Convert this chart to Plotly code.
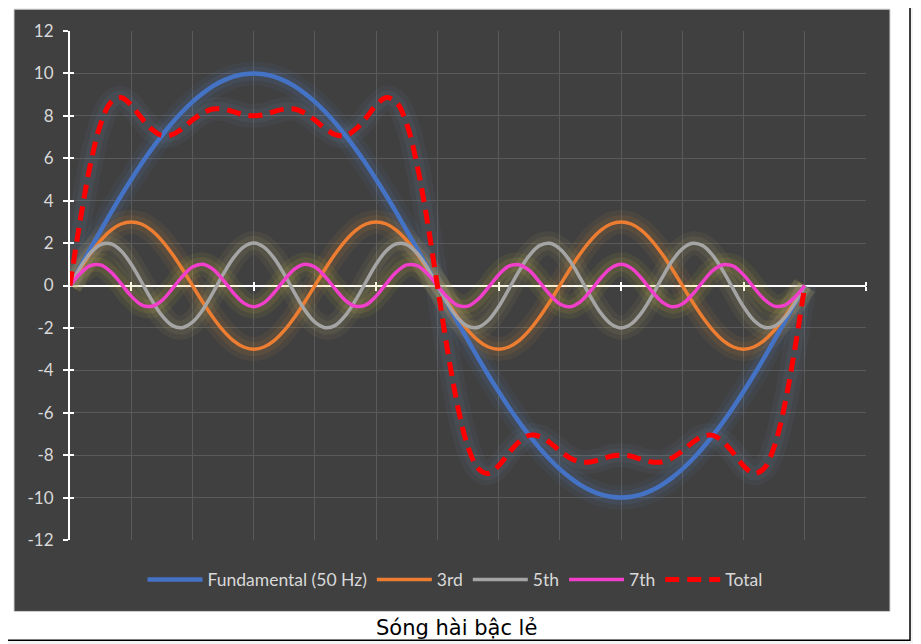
import plotly.graph_objects as go

# Góc (độ) của mỗi điểm dữ liệu
DEGREES = list(range(0, 365, 5))

FUNDAMENTAL = [0, 0.87, 1.74, 2.59, 3.42, 4.23, 5.0, 5.74, 6.43, 7.07, 7.66, 8.19, 8.66, 9.06, 9.40, 9.66, 9.85, 9.96,
               10.0, 9.96, 9.85, 9.66, 9.40, 9.06, 8.66, 8.19, 7.66, 7.07, 6.43, 5.74, 5.0, 4.23, 3.42, 2.59, 1.74, 0.87, 0,
               -0.87, -1.74, -2.59, -3.42, -4.23, -5.0, -5.74, -6.43, -7.07, -7.66, -8.19, -8.66, -9.06, -9.40, -9.66,
               -9.85, -9.96, -10.0, -9.96, -9.85, -9.66, -9.40, -9.06, -8.66, -8.19, -7.66, -7.07, -6.43, -5.74, -5.0,
               -4.23, -3.42, -2.59, -1.74, -0.87, 0]

HARMONIC_3 = [0, 0.78, 1.5, 2.12, 2.6, 2.9, 3.0, 2.9, 2.6, 2.12, 1.5, 0.78, 0, -0.78, -1.5, -2.12, -2.6, -2.9,
              -3.0, -2.9, -2.6, -2.12, -1.5, -0.78, 0, 0.78, 1.5, 2.12, 2.6, 2.9, 3.0, 2.9, 2.6, 2.12, 1.5, 0.78, 0,
              -0.78, -1.5, -2.12, -2.6, -2.9, -3.0, -2.9, -2.6, -2.12, -1.5, -0.78, 0, 0.78, 1.5, 2.12, 2.6, 2.9,
              3.0, 2.9, 2.6, 2.12, 1.5, 0.78, 0, -0.78, -1.5, -2.12, -2.6, -2.9, -3.0, -2.9, -2.6, -2.12, -1.5, -0.78, 0]

HARMONIC_5 = [0, 0.85, 1.53, 1.93, 1.97, 1.64, 1.0, 0.17, -0.68, -1.41, -1.88, -1.99, -1.73, -1.15, -0.35, 0.52, 1.29,
              1.81, 2.0, 1.81, 1.29, 0.52, -0.35, -1.15, -1.73, -1.99, -1.88, -1.41, -0.68, 0.17, 1.0, 1.64, 1.97, 1.93,
              1.53, 0.85, 0,
              -0.85, -1.53, -1.93, -1.97, -1.64, -1.0, -0.17, 0.68, 1.41, 1.88, 1.99, 1.73, 1.15, 0.35, -0.52, -1.29,
              -1.81, -2.0, -1.81, -1.29, -0.52, 0.35, 1.15, 1.73, 1.99, 1.88, 1.41, 0.68, -0.17, -1.0, -1.64, -1.97,
              -1.93, -1.53, -0.85, 0]

HARMONIC_7 = [0, 0.57, 0.94, 0.97, 0.64, 0.09, -0.5, -0.91, -0.98, -0.71, -0.17, 0.42, 0.87, 1.0, 0.77, 0.26, -0.34,
              -0.82, -1.0, -0.82, -0.34, 0.26, 0.77, 1.0, 0.87, 0.42, -0.17, -0.71, -0.98, -0.91, -0.5, 0.09, 0.64, 0.97,
              0.94, 0.57, 0,
              -0.57, -0.94, -0.97, -0.64, -0.09, 0.5, 0.91, 0.98, 0.71, 0.17, -0.42, -0.87, -1.0, -0.77, -0.26, 0.34,
              0.82, 1.0, 0.82, 0.34, -0.26, -0.77, -1.0, -0.87, -0.42, 0.17, 0.71, 0.98, 0.91, 0.5, -0.09, -0.64, -0.97,
              -0.94, -0.57, 0]

TOTAL = [0, 3.07, 5.71, 7.61, 8.63, 8.86, 8.5, 7.90, 7.37, 7.07, 7.11, 7.40, 7.80, 8.13, 8.32, 8.32, 8.20, 8.05,
         8.0, 8.05, 8.20, 8.32, 8.32, 8.13, 7.80, 7.40, 7.11, 7.07, 7.37, 7.90, 8.5, 8.86, 8.63, 7.61, 5.71, 3.07, 0,
         -3.07, -5.71, -7.61, -8.63, -8.86, -8.5, -7.90, -7.37, -7.07, -7.11, -7.40, -7.80, -8.13, -8.32, -8.32,
         -8.20, -8.05, -8.0, -8.05, -8.20, -8.32, -8.32, -8.13, -7.80, -7.40, -7.11, -7.07, -7.37, -7.90, -8.5,
         -8.86, -8.63, -7.61, -5.71, -3.07, 0]

SERIES_NAMES = ["Fundamental (50 Hz)", "3rd", "5th", "7th", "Total"]
Y_TICKS = [-12, -10, -8, -6, -4, -2, 0, 2, 4, 6, 8, 10, 12]
Y_LABELS = ["-12", "-10", "-8", "-6", "-4", "-2", "0", "2", "4", "6", "8", "10", "12"]
X_TICKS = [30, 90, 150, 210, 270, 330, 390]
TITLE = "Sóng hài bậc lẻ"

# màu: (đường, quầng sáng)
STYLES = [
    dict(color="#4472C4", width=4.5, dash="solid", glow="91,140,213"),
    dict(color="#ED7D31", width=3.5, dash="solid", glow="230,150,60"),
    dict(color="#A5A5A5", width=3.5, dash="solid", glow="200,190,110"),
    dict(color="#F23FCB", width=3.5, dash="solid", glow="230,210,60"),
    dict(color="#FF0000", width=5, dash="14px,8px", glow="110,140,180"),
]

FONT = "Lato, Open Sans, sans-serif"
TEXT_GREY = "#D9D9D9"
GRID = "#5A5A5A"

fig = go.Figure()
all_values = [FUNDAMENTAL, HARMONIC_3, HARMONIC_5, HARMONIC_7, TOTAL]

# quầng sáng (glow) phía dưới
for values, st in zip(all_values, STYLES):
    for w, a in [(24, 0.07), (14, 0.10)]:
        fig.add_trace(go.Scatter(
            x=DEGREES, y=values, mode="lines", line_shape="spline",
            line=dict(color=f"rgba({st['glow']},{a})", width=w),
            showlegend=False, hoverinfo="skip"
        ))

for name, values, st in zip(SERIES_NAMES, all_values, STYLES):
    fig.add_trace(go.Scatter(
        x=DEGREES, y=values, mode="lines", name=name, line_shape="spline",
        line=dict(color=st["color"], width=st["width"], dash=st["dash"])
    ))

# trace rỗng để vẽ nửa kia của vạch chia
fig.add_trace(go.Scatter(x=[None], y=[None], xaxis="x2", yaxis="y2", showlegend=False, hoverinfo="skip"))

# trang HTML có lề 8px -> bù lại
OFF = 8
L, T, W, H = 70 - OFF, 27 - OFF, 796, 513
FW, FH = 921 - OFF, 644 - OFF


def px(x):
    return (x - OFF - L) / W


def py(y):
    return (T + H - (y - OFF)) / H


fig.update_layout(
    width=FW, height=FH,
    margin=dict(l=L, r=FW - L - W, t=T, b=FH - T - H),
    paper_bgcolor="#F4F4F4",
    plot_bgcolor="#404040",
    font=dict(family=FONT, color=TEXT_GREY, size=17),
    shapes=[
        dict(type="rect", xref="paper", yref="paper", layer="below",
             x0=px(2), x1=px(910), y0=py(641), y1=py(2),
             fillcolor="white", line=dict(color="black", width=1.5)),
        dict(type="rect", xref="paper", yref="paper", layer="below",
             x0=px(14), x1=px(890), y0=py(612), y1=py(5),
             fillcolor="#404040", line=dict(color="#D0D0D0", width=1)),
    ],
    annotations=[
        dict(text=TITLE, xref="paper", yref="paper", x=px(456), y=py(629),
             showarrow=False, xanchor="center", yanchor="middle",
             font=dict(family="DejaVu Sans, Verdana, sans-serif", size=21, color="black"))
    ],
    legend=dict(orientation="h", x=px(455), xanchor="center", y=py(580), yanchor="middle",
                itemwidth=55,
                bgcolor="rgba(0,0,0,0)", font=dict(family=FONT, size=17.5, color=TEXT_GREY)),
    xaxis=dict(
        range=[0, 390], anchor="free", position=0.5,
        tickmode="array", tickvals=X_TICKS, showticklabels=False,
        ticks="outside", ticklen=4, tickwidth=1.5, tickcolor="white",
        showline=True, linecolor="white", linewidth=2,
        showgrid=True, gridcolor=GRID, gridwidth=1,
        minor=dict(tickmode="linear", tick0=0, dtick=30, showgrid=True, gridcolor=GRID, gridwidth=1, ticks=""),
        zeroline=False, layer="below traces", fixedrange=True,
    ),
    xaxis2=dict(
        range=[0, 390], overlaying="x", anchor="free", position=0.5, side="top",
        tickmode="array", tickvals=X_TICKS, showticklabels=False,
        ticks="outside", ticklen=4, tickwidth=1.5, tickcolor="white",
        showline=False, showgrid=False, zeroline=False, layer="below traces",
    ),
    yaxis=dict(
        range=[-12, 12], tickmode="array", tickvals=Y_TICKS, ticktext=Y_LABELS,
        ticks="outside", ticklen=5, tickwidth=1.5, tickcolor="white",
        showline=True, linecolor="white", linewidth=2,
        showgrid=True, gridcolor=GRID, gridwidth=1, zeroline=False,
        tickfont=dict(family=FONT, size=17, color=TEXT_GREY),
        ticklabelstandoff=6,
        layer="below traces",
    ),
    yaxis2=dict(
        range=[-12, 12], overlaying="y", anchor="x2", side="left",
        tickmode="array", tickvals=Y_TICKS, showticklabels=False,
        ticks="inside", ticklen=4, tickwidth=1.5, tickcolor="white",
        showline=False, showgrid=False, zeroline=False, layer="below traces",
    ),
)

fig.write_html("out.html")
